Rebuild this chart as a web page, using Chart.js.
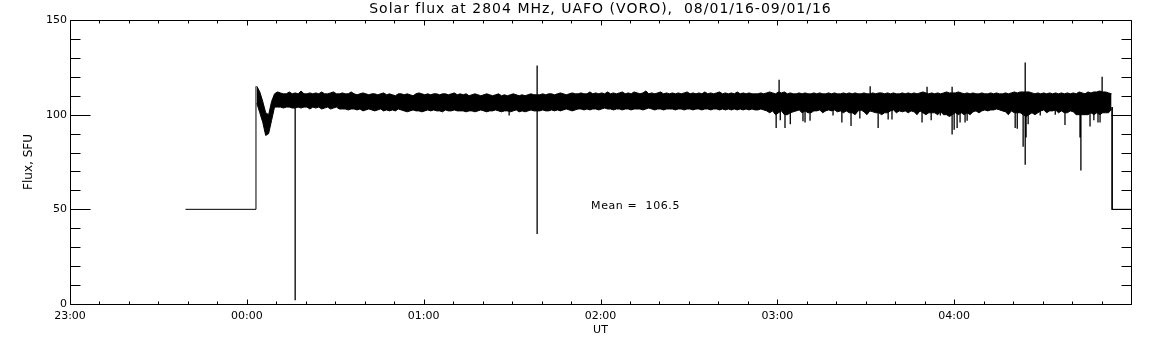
<!DOCTYPE html>
<html>
<head>
<meta charset="utf-8">
<script src="https://cdn.jsdelivr.net/npm/chart.js@4.4.1/dist/chart.umd.min.js"></script>
<style>
  html, body { margin: 0; padding: 0; background: #fff; }
  #wrap { position: relative; width: 1152px; height: 345px; }
</style>
</head>
<body>
<div id="wrap"><canvas id="fluxChart" width="1152" height="345"></canvas></div>
<script>
// time axis in minutes from 00:00 UT
const xTickValues = [-60, 0, 60, 120, 180, 240, 300];
const xTickLabels = ['23:00', '00:00', '01:00', '02:00', '03:00', '04:00', ''];
const yTickValues = [0, 50, 100, 150];

// level before the receiver came on, and after it went off
const leadX = [-20.8, 3.1, 3.1];
const leadY = [50, 50, 115];
const tailX = [293.6, 293.6, 300];
const tailY = [104, 50, 50];

// 1-minute upper / lower envelope of the flux record, first point at minute 3.4
const binStart = 3.4;
const bandHi = [
  115, 112, 107, 101, 100, 107, 111, 112, 111.5, 111,
  111, 112, 111, 111.5, 111, 112.5, 111, 111, 111.5, 111,
  111.5, 111, 112, 111, 111, 111.5, 112, 111, 111, 111.5,
  111, 111, 112, 111, 110.5, 111, 111.5, 111, 110.5, 111,
  111, 110.5, 111, 111.5, 110.5, 111, 110.5, 110, 111, 111,
  110.5, 111, 110.5, 110, 111, 111.5, 111, 110.5, 111, 110.5,
  111, 111, 110.5, 111, 111, 110.5, 111, 111.5, 110.5, 111,
  110.5, 111, 110, 110.5, 111, 110.5, 110, 110.5, 111, 110.5,
  110, 110.5, 111, 110, 110.5, 110, 110.5, 111, 110.5, 110,
  110.5, 110, 110.5, 111, 110.5, 110.5, 110.5, 111, 110.5, 111,
  111, 110.5, 111, 111.5, 111, 110.5, 111, 111.5, 111, 111,
  111.5, 111, 111, 112, 111, 111.5, 111, 111.5, 111, 112,
  111, 111.5, 111, 111.5, 112, 111, 111.5, 111, 112, 111.5,
  111, 111.5, 112.5, 111, 111.5, 111, 111.5, 112, 111, 111.5,
  111, 111.5, 111, 111.5, 111, 111.5, 112, 111, 111.5, 111,
  111.5, 111, 112, 111, 111.5, 111, 111.5, 112, 111, 111.5,
  111, 111.5, 111, 112, 111, 111.5, 111, 111.5, 111, 111,
  111, 111.5, 111, 111.5, 112, 111.5, 111, 112, 111.5, 112,
  111, 111.5, 111, 111, 111.5, 111, 111.5, 111, 111, 111.5,
  111, 111.5, 111, 111, 111.5, 111, 111.5, 111, 111, 111.5,
  111, 111.5, 111, 111.5, 111, 111, 111.5, 111, 111, 111.5,
  111, 111.5, 111.5, 111, 111.5, 111, 111.5, 111, 111, 111.5,
  111, 111.5, 111, 111.5, 111, 111.5, 112, 111.5, 111, 111.5,
  111, 111.5, 111, 111.5, 112, 111.5, 111.5, 111.5, 112, 111.5,
  111, 111.5, 111, 111.5, 111, 111, 111.5, 111, 111, 111.5,
  111, 111.5, 111, 111, 111.5, 111, 111.5, 112, 111.5, 112,
  112, 112, 112, 111.5, 111, 111.5, 111, 111.5, 111, 111.5,
  111, 111.5, 111, 111.5, 111, 111.5, 111, 111.5, 111, 112,
  111.5, 111, 112, 111.5, 112, 112, 112.5, 112, 112, 111.5, 111
];
const bandLo = [
  106, 101, 96, 89, 90, 97, 104, 104, 104, 103.5,
  104, 104, 103.5, 103.5, 104, 103.5, 104, 104, 103, 104,
  103.5, 104, 103, 103.5, 104, 103, 103.5, 104, 103, 103,
  103, 102.5, 103, 103, 102.5, 103, 102, 102.5, 103, 102.5,
  102, 102.5, 103, 102, 102.5, 102, 102.5, 102, 103, 102.5,
  102, 101.5, 102, 102.5, 102, 102, 101.5, 102, 102.5, 102,
  102.5, 102, 102, 101.5, 102.5, 102, 102, 102.5, 102, 102,
  102, 101.5, 102, 102, 101.5, 102, 102.5, 102, 101.5, 102,
  102, 102.5, 102, 101.5, 102, 102, 101.5, 102, 102.5, 101.5,
  102, 101.5, 102, 102.5, 102, 102, 102, 102.5, 102, 102,
  102.5, 102, 102.5, 102, 102.5, 103, 102.5, 102, 102.5, 103,
  103, 102.5, 103, 102.5, 103, 103, 102.5, 103, 103.5, 103,
  103, 102.5, 103, 103, 102.5, 103, 103, 102.5, 103, 103,
  103, 102.5, 103, 103.5, 103, 102.5, 103, 103, 102.5, 103,
  103, 103, 102.5, 103, 103, 102.5, 103, 103, 102.5, 103,
  103, 102.5, 103, 103, 102.5, 103, 103, 102.5, 103, 102.5,
  103, 102.5, 103, 102.5, 103, 102.5, 103, 102.5, 103, 102.5,
  102.5, 103, 102.5, 102, 101, 102, 100, 101, 102, 100,
  100, 101, 101.5, 102, 102.5, 101, 102, 101, 101, 102,
  102, 102.5, 101, 102, 102.5, 102, 102.5, 101.5, 102, 101,
  102, 101, 101, 100, 102, 102.5, 101.5, 100, 102, 101.5,
  101, 101, 100, 101, 101, 102, 102.5, 101, 102, 101.5,
  102, 101, 102, 101.5, 100, 102, 101, 100, 101, 101,
  101, 100, 101.5, 100, 100, 99, 100, 101, 100, 101,
  100, 101, 100, 101.5, 102, 101, 102, 102.5, 102, 102.5,
  102.5, 103, 102.5, 102, 101.5, 100, 102, 101, 101, 101,
  100, 99, 100, 101, 100, 101, 102, 102.5, 101, 102,
  102, 102.5, 101, 102, 101, 101, 102, 101.5, 100, 100,
  100, 100, 100, 101, 100, 101, 100, 101, 101, 101, 103
];

// single-sample excursions drawn as hairlines: minute, low end, high end
const spikeX = [16.4, 89, 98.5, 179.6, 180.6, 181, 182.6, 184.4, 188.7, 189.4, 191.1, 198.9,
  201.9, 205, 208, 211.5, 214.2, 217.6, 218.9, 229.1, 230.8, 232.2, 235.3, 239.3, 240, 241,
  242, 243.7, 244.4, 260.7, 261.4, 263.4, 264.1, 264.4, 265.1, 269.2, 274.3, 277.6, 282.7,
  283, 286.1, 287.4, 288.8, 289.5, 290.2];
const spikeLo = [2, 99.5, 37, 93, 104, 97, 93, 95, 96.5, 95.8, 96.8, 99.5,
  95.8, 94, 98, 104, 93, 97.4, 97.5, 95.8, 104, 97, 99.5, 89.5, 92, 93,
  95.8, 95.8, 96.8, 93, 92.5, 83, 73.5, 88, 95, 99.5, 100, 94.5, 88,
  70.5, 93.7, 97, 95.8, 95.8, 104];
const spikeHi = [104, 104, 126, 104, 118.5, 104, 104, 104, 104, 104, 104, 104,
  104, 104, 104, 115, 104, 104, 104, 104, 114.7, 104, 104, 114.7, 104, 104,
  104, 104, 104, 104, 104, 104, 127.5, 104, 104, 104, 104, 104, 104,
  104, 104, 104, 104, 104, 120];

const titleText = 'Solar flux at 2804 MHz, UAFO (VORO),  08/01/16-09/01/16';
const meanText = 'Mean =  106.5';
const FONT = '"DejaVu Sans", sans-serif';

const hiData = bandHi.map((v, i) => ({ x: binStart + i, y: v }));
const loData = bandLo.map((v, i) => ({ x: binStart + i, y: v }));
const leadData = leadX.map((v, i) => ({ x: v, y: leadY[i] }));
const tailData = tailX.map((v, i) => ({ x: v, y: tailY[i] }));
const spikeData = [];
spikeX.forEach(function (m, i) {
    spikeData.push({ x: m, y: spikeLo[i] }, { x: m, y: spikeHi[i] }, { x: m, y: null });
});

function blackLine(data, extra) {
    return Object.assign({
        type: 'line',
        data: data,
        borderColor: '#000',
        backgroundColor: '#000',
        borderWidth: 1,
        pointRadius: 0,
        tension: 0,
        fill: false,
        spanGaps: false
    }, extra || {});
}

// IDL style frame: box round the plot with inward ticks on all sides
const idlFrame = {
    id: 'idlFrame',
    afterDatasetsDraw: function (chart) {
        const ctx = chart.ctx;
        const a = chart.chartArea;
        const xs = chart.scales.x, ys = chart.scales.y;
        const L = Math.round(a.left) + 0.5, R = Math.round(a.right) + 0.5;
        const T = Math.round(a.top) + 0.5, B = Math.round(a.bottom) + 0.5;
        ctx.save();
        ctx.strokeStyle = '#000';
        ctx.lineWidth = 1;
        ctx.beginPath();
        ctx.rect(L, T, R - L, B - T);
        for (let v = 0; v <= 150; v += 10) {
            const py = Math.round(ys.getPixelForValue(v)) + 0.5;
            const len = v % 50 === 0 ? 20 : 10;
            ctx.moveTo(L, py); ctx.lineTo(L + len, py);
            ctx.moveTo(R, py); ctx.lineTo(R - len, py);
        }
        for (let m = -60; m <= 300; m += 10) {
            const px = Math.round(xs.getPixelForValue(m)) + 0.5;
            const len = m % 60 === 0 ? 5 : 3;
            ctx.moveTo(px, B); ctx.lineTo(px, B - len);
            ctx.moveTo(px, T); ctx.lineTo(px, T + len);
        }
        ctx.stroke();

        ctx.fillStyle = '#000';
        ctx.font = '14px ' + FONT;
        ctx.letterSpacing = '1px';
        ctx.textAlign = 'center';
        ctx.textBaseline = 'middle';
        ctx.fillText(titleText, (a.left + a.right) / 2, 9);

        ctx.font = '11px ' + FONT;
        ctx.letterSpacing = '0.6px';
        ctx.textAlign = 'left';
        ctx.fillText(meanText, xs.getPixelForValue(116.8), ys.getPixelForValue(51.8));
        ctx.restore();
    }
};

const ctx = document.getElementById('fluxChart');
const fluxChart = new Chart(ctx, {
    type: 'line',
    data: {
        datasets: [
            blackLine(hiData, { fill: '+1' }),
            blackLine(loData),
            blackLine(spikeData, { borderWidth: 1.3 }),
            blackLine(leadData),
            blackLine(tailData)
        ]
    },
    options: {
        responsive: false,
        animation: false,
        events: [],
        layout: { padding: { top: 20, right: 21, bottom: 0, left: 0 } },
        plugins: {
            legend: { display: false },
            tooltip: { enabled: false },
            title: { display: false }
        },
        scales: {
            x: {
                type: 'linear',
                min: -60,
                max: 300,
                offset: false,
                grid: { display: false, drawTicks: false },
                border: { display: false },
                afterFit: function (scale) { scale.height = 41; },
                afterBuildTicks: function (scale) {
                    scale.ticks = xTickValues.map(v => ({ value: v }));
                },
                ticks: {
                    autoSkip: false,
                    maxRotation: 0,
                    padding: 6,
                    color: '#000',
                    font: { family: FONT, size: 11 },
                    callback: function (value) {
                        return xTickLabels[xTickValues.indexOf(value)];
                    }
                },
                title: {
                    display: true,
                    text: 'UT',
                    color: '#000',
                    font: { family: FONT, size: 11 },
                    padding: { top: 0, bottom: 8 }
                }
            },
            y: {
                min: 0,
                max: 150,
                grid: { display: false, drawTicks: false },
                border: { display: false },
                afterFit: function (scale) { scale.width = 70; },
                afterBuildTicks: function (scale) {
                    scale.ticks = yTickValues.map(v => ({ value: v }));
                },
                ticks: {
                    padding: 3,
                    color: '#000',
                    font: { family: FONT, size: 11 }
                },
                title: {
                    display: true,
                    text: 'Flux, SFU',
                    color: '#000',
                    font: { family: FONT, size: 12 },
                    padding: { top: 22, bottom: 0 }
                }
            }
        }
    },
    plugins: [idlFrame]
});
</script>
</body>
</html>
